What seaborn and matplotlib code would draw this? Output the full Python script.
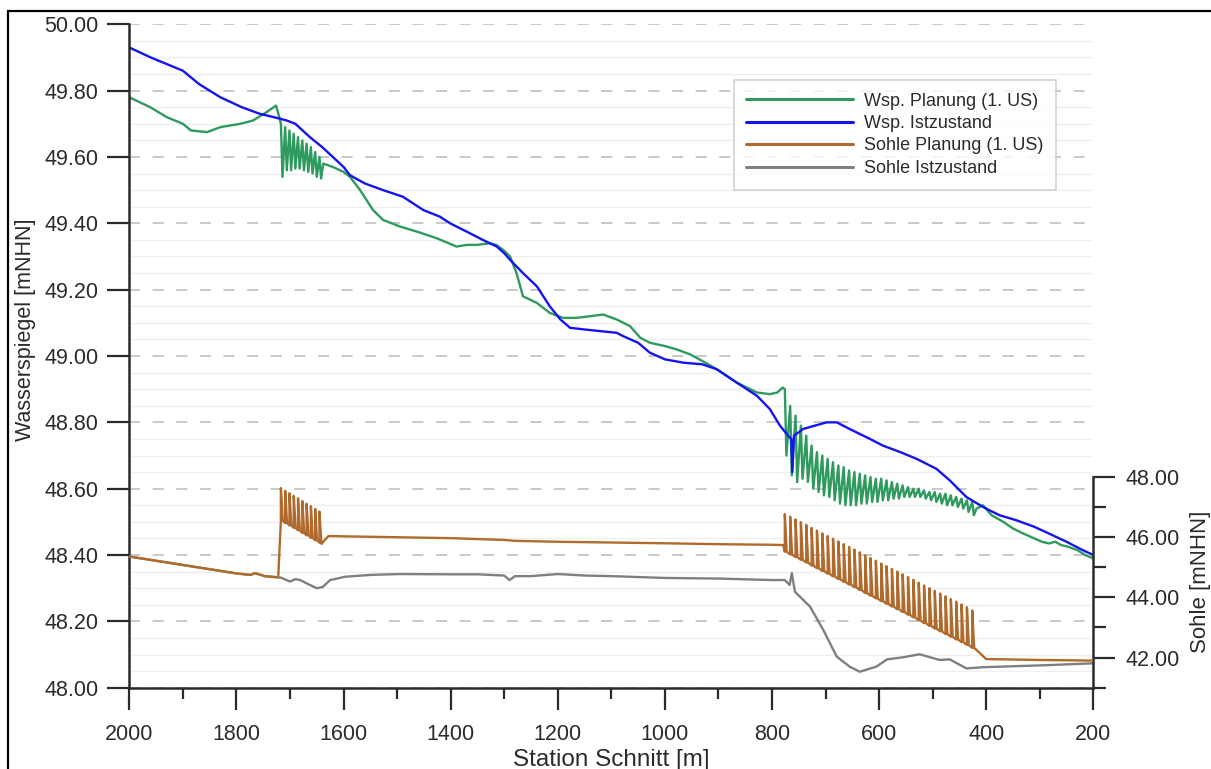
import numpy as np
import pandas as pd
import matplotlib
matplotlib.use("Agg")
import matplotlib.pyplot as plt
from matplotlib.ticker import MultipleLocator, FixedLocator, FormatStrFormatter
from matplotlib.patches import Rectangle
import seaborn as sns

# ---------------- data ----------------
# Wsp. Istzustand (left axis)
ist_s = [2000, 1960, 1900, 1870, 1830, 1790, 1756, 1730, 1706, 1690, 1663, 1640, 1620, 1600,
         1588, 1560, 1526, 1489, 1451, 1420, 1401, 1364, 1340, 1327, 1314, 1300, 1289, 1265,
         1239, 1215, 1195, 1177, 1150, 1121, 1090, 1078, 1050, 1028, 1000, 966, 930, 903, 866,
         828, 804, 785, 770, 764, 762, 759, 750, 742, 720, 698, 679, 655, 617, 593, 560, 530,
         493, 468, 437, 406, 394, 375, 344, 310, 283, 250, 220, 200]
ist_v = [49.93, 49.90, 49.86, 49.82, 49.78, 49.75, 49.73, 49.72, 49.71, 49.70, 49.66, 49.63,
         49.60, 49.57, 49.545, 49.52, 49.50, 49.48, 49.44, 49.42, 49.40, 49.37, 49.35, 49.34,
         49.33, 49.31, 49.29, 49.25, 49.21, 49.15, 49.11, 49.085, 49.08, 49.075, 49.07, 49.06,
         49.04, 49.01, 48.99, 48.98, 48.975, 48.96, 48.92, 48.88, 48.84, 48.79, 48.76, 48.75,
         48.65, 48.76, 48.77, 48.78, 48.79, 48.80, 48.80, 48.78, 48.75, 48.73, 48.71, 48.69,
         48.66, 48.625, 48.575, 48.545, 48.535, 48.52, 48.505, 48.485, 48.465, 48.44, 48.415,
         48.40]

# Wsp. Planung (1. US) (left axis)
plan_a_s = [2000, 1961, 1930, 1900, 1885, 1855, 1830, 1793, 1769, 1744, 1726, 1720]
plan_a_v = [49.78, 49.75, 49.72, 49.70, 49.68, 49.675, 49.69, 49.70, 49.71, 49.735, 49.755, 49.72]
plan_t1_top = [49.70, 49.69, 49.68, 49.67, 49.66, 49.65, 49.64, 49.63, 49.615, 49.60]
plan_t1_bot = [49.54, 49.56, 49.56, 49.565, 49.565, 49.56, 49.555, 49.55, 49.54, 49.535]
plan_b_s = [1638, 1620, 1600, 1588, 1569, 1545, 1526, 1494, 1463, 1426, 1389, 1370, 1351,
            1327, 1315, 1302, 1289, 1277, 1265, 1252, 1239, 1215, 1190, 1165, 1140, 1115,
            1090, 1065, 1046, 1028, 1000, 978, 953, 930, 903, 866, 828, 804, 790, 780]
plan_b_v = [49.58, 49.57, 49.555, 49.54, 49.50, 49.44, 49.41, 49.39, 49.375, 49.355, 49.33,
            49.335, 49.335, 49.34, 49.335, 49.32, 49.30, 49.25, 49.18, 49.17, 49.16, 49.13,
            49.115, 49.115, 49.12, 49.125, 49.11, 49.09, 49.055, 49.04, 49.03, 49.02, 49.005,
            48.985, 48.96, 48.92, 48.89, 48.885, 48.89, 48.905]
plan_t2_top = [48.90, 48.85, 48.82, 48.79, 48.76, 48.73, 48.71, 48.70, 48.69, 48.68, 48.67,
               48.665, 48.655, 48.65, 48.645, 48.64, 48.635, 48.63, 48.63, 48.625, 48.62,
               48.615, 48.61, 48.605, 48.60, 48.60, 48.595, 48.59, 48.59, 48.585, 48.585,
               48.58, 48.575, 48.57, 48.565, 48.56]
plan_t2_bot = [48.70, 48.64, 48.62, 48.63, 48.62, 48.60, 48.59, 48.58, 48.575, 48.565, 48.555,
               48.55, 48.55, 48.55, 48.555, 48.555, 48.56, 48.56, 48.565, 48.565, 48.57, 48.57,
               48.575, 48.575, 48.575, 48.575, 48.57, 48.565, 48.56, 48.555, 48.55, 48.55,
               48.545, 48.54, 48.53, 48.52]
plan_c_s = [418, 406, 390, 368, 350, 331, 310, 296, 283, 271, 260, 247, 230, 215, 200]
plan_c_v = [48.54, 48.55, 48.52, 48.50, 48.48, 48.465, 48.45, 48.44, 48.435, 48.44, 48.43,
            48.425, 48.415, 48.40, 48.39]

# step stations (riffle steps) of the planning
steps1_s = [1717, 1709, 1701, 1693, 1685, 1677, 1669, 1661, 1653, 1645]
steps2_s = [776, 766, 756, 746, 736, 726, 716, 706, 696, 686, 676, 666, 656, 646, 636, 626,
            616, 606, 596, 586, 576, 566, 556, 546, 536, 526, 516, 506, 496, 486, 476, 466,
            456, 446, 436, 426]

# Sohle Planung (1. US) (right axis)
sp_a_s = [2000, 1950, 1900, 1850, 1800, 1774, 1765, 1747, 1722]
sp_a_v = [45.35, 45.21, 45.07, 44.93, 44.79, 44.74, 44.80, 44.70, 44.66]
sp_t1_base = [46.54, 46.46, 46.38, 46.30, 46.22, 46.13, 46.05, 45.97, 45.89, 45.81]
sp_t1_top = [47.62, 47.53, 47.45, 47.36, 47.28, 47.19, 47.10, 47.02, 46.93, 46.84]
sp_b_s = [1641, 1635, 1628, 1600, 1500, 1400, 1300, 1280, 1200, 1000, 900, 800, 779]
sp_b_v = [45.77, 45.90, 46.03, 46.02, 45.99, 45.96, 45.90, 45.87, 45.84, 45.79, 45.76, 45.74, 45.73]
sp_t2_base = [45.51, 45.42, 45.33, 45.24, 45.15, 45.05, 44.96, 44.87, 44.78, 44.69, 44.60,
              44.51, 44.42, 44.33, 44.24, 44.14, 44.05, 43.96, 43.87, 43.78, 43.69, 43.60,
              43.51, 43.42, 43.33, 43.23, 43.14, 43.05, 42.96, 42.87, 42.78, 42.69, 42.60,
              42.51, 42.42, 42.32]
sp_t2_top = [46.76, 46.67, 46.58, 46.49, 46.40, 46.30, 46.21, 46.12, 46.03, 45.94, 45.85,
             45.76, 45.67, 45.58, 45.49, 45.39, 45.30, 45.21, 45.12, 45.03, 44.94, 44.85,
             44.76, 44.67, 44.58, 44.48, 44.39, 44.30, 44.21, 44.12, 44.03, 43.94, 43.85,
             43.76, 43.67, 43.56]
sp_c_s = [418, 400, 300, 200]
sp_c_v = [42.25, 41.95, 41.92, 41.90]

# Sohle Istzustand (right axis)
si_s = [2000, 1950, 1900, 1850, 1800, 1774, 1765, 1747, 1722, 1717, 1700, 1690, 1681, 1663,
        1650, 1639, 1625, 1597, 1551, 1494, 1401, 1350, 1300, 1290, 1280, 1250, 1200, 1150,
        1100, 1000, 900, 800, 776, 767, 763, 757, 729, 704, 679, 655, 636, 605, 585, 555,
        524, 487, 468, 437, 406, 283, 200]
si_v = [45.35, 45.21, 45.07, 44.93, 44.79, 44.74, 44.80, 44.70, 44.66, 44.65, 44.52, 44.60,
        44.57, 44.41, 44.30, 44.34, 44.57, 44.68, 44.74, 44.77, 44.76, 44.76, 44.72, 44.57,
        44.70, 44.70, 44.77, 44.72, 44.70, 44.64, 44.62, 44.57, 44.57, 44.41, 44.80, 44.18,
        43.69, 42.91, 42.03, 41.70, 41.53, 41.70, 41.94, 42.01, 42.11, 41.92, 41.94, 41.64,
        41.68, 41.75, 41.81]

labels = ["Wsp. Planung (1. US)", "Wsp. Istzustand", "Sohle Planung (1. US)", "Sohle Istzustand"]
colors = ["#2e9a5e", "#1414f0", "#b06b2c", "#7f7f7f"]

x_ticks = [2000, 1800, 1600, 1400, 1200, 1000, 800, 600, 400, 200]
sohle_ticks = [42, 44, 46, 48]


# ---------------- assemble polylines ----------------
def zigzag(st, tops, bots, w=3.0):
    xs, ys = [], []
    for s, t, b in zip(st, tops, bots):
        xs += [s, s - w]
        ys += [t, b]
    return xs, ys


def spikes(st, bases, tops, w=3.5):
    xs, ys = [], []
    for s, b, t in zip(st, bases, tops):
        xs += [s, s, s - w]
        ys += [b, t, b]
    return xs, ys


z1x, z1y = zigzag(steps1_s, plan_t1_top, plan_t1_bot)
z2x, z2y = zigzag(steps2_s, plan_t2_top, plan_t2_bot)
plan_x = plan_a_s + z1x + plan_b_s + z2x + plan_c_s
plan_y = plan_a_v + z1y + plan_b_v + z2y + plan_c_v

s1x, s1y = spikes(steps1_s, sp_t1_base, sp_t1_top)
s2x, s2y = spikes(steps2_s, sp_t2_base, sp_t2_top)
sp_x = sp_a_s + s1x + sp_b_s + s2x + sp_c_s
sp_y = sp_a_v + s1y + sp_b_v + s2y + sp_c_v

# ---------------- style ----------------
sns.set_theme(style="white")
plt.rcParams["font.family"] = ["Liberation Sans", "DejaVu Sans"]
plt.rcParams["lines.scale_dashes"] = False

TXT = "#2b2b2b"
fig = plt.figure(figsize=(12.11, 7.69), dpi=100)
ax = fig.add_axes([0.1068, 0.1057, 0.7960, 0.8627])
ax2 = ax.twinx()
ax.set_facecolor("white")
ax2.patch.set_visible(False)

lw = 1.7
sns.lineplot(x=plan_x, y=plan_y, ax=ax, estimator=None, sort=False, color=colors[0], lw=lw, legend=False)
h0 = ax.lines[-1]
sns.lineplot(x=ist_s, y=ist_v, ax=ax, estimator=None, sort=False, color=colors[1], lw=lw, legend=False)
h1 = ax.lines[-1]
sns.lineplot(x=si_s, y=si_v, ax=ax2, estimator=None, sort=False, color=colors[3], lw=lw, legend=False, zorder=2)
h3 = ax2.lines[-1]
sns.lineplot(x=sp_x, y=sp_y, ax=ax2, estimator=None, sort=False, color=colors[2], lw=lw, legend=False, zorder=3)
h2 = ax2.lines[-1]

ax.set_xlim(2000, 200)
ax.set_ylim(48.0, 50.0)
ax2.set_ylim(41, 63)

# grid
ax.yaxis.set_major_locator(MultipleLocator(0.2))
ax.yaxis.set_minor_locator(MultipleLocator(0.05))
ax.grid(which="major", axis="y", color="#c9c9c9", lw=1.4, ls=(0, (8, 9)), zorder=0)
ax.grid(which="minor", axis="y", color="#efefef", lw=1.0, ls="-", zorder=0)
ax.grid(which="major", axis="x", visible=False)
ax.set_axisbelow(True)
ax2.grid(False)

# spines
for sp in ["top", "right"]:
    ax.spines[sp].set_visible(False)
for sp in ["left", "bottom"]:
    ax.spines[sp].set_color(TXT)
    ax.spines[sp].set_linewidth(1.8)
for sp in ["top", "left", "bottom"]:
    ax2.spines[sp].set_visible(False)
ax2.spines["right"].set_color(TXT)
ax2.spines["right"].set_linewidth(1.8)
ax2.spines["right"].set_bounds(41, 48)

# ticks
ax.xaxis.set_major_locator(FixedLocator(x_ticks))
ax.xaxis.set_minor_locator(MultipleLocator(100))
ax.yaxis.set_major_formatter(FormatStrFormatter("%.2f"))
ax.tick_params(axis="x", which="major", direction="out", length=16, width=1.6, color=TXT,
               labelsize=15.5, labelcolor=TXT, pad=10, bottom=True)
ax.tick_params(axis="x", which="minor", direction="out", length=8, width=1.6, color=TXT, bottom=True)
ax.tick_params(axis="y", which="major", direction="out", length=16, width=1.6, color=TXT,
               labelsize=15.5, labelcolor=TXT, pad=6, left=True)
ax.tick_params(axis="y", which="minor", length=0, left=False)

ax2.yaxis.set_major_locator(FixedLocator(sohle_ticks))
ax2.yaxis.set_minor_locator(FixedLocator([41, 43, 45, 47]))
ax2.yaxis.set_major_formatter(FormatStrFormatter("%.2f"))
ax2.tick_params(axis="y", which="major", direction="out", length=16, width=1.6, color=TXT,
                labelsize=15.5, labelcolor=TXT, pad=7, right=True)
ax2.tick_params(axis="y", which="minor", direction="out", length=9, width=1.6, color=TXT, right=True)

# labels
ax.set_xlabel("Station Schnitt [m]", fontsize=17.5, color=TXT, labelpad=3)
ax.set_ylabel("Wasserspiegel [mNHN]", fontsize=15.5, color=TXT)
ax.yaxis.set_label_coords(-0.097, 0.539)
ax2.set_ylabel("Sohle [mNHN]", fontsize=16, color=TXT)
ax2.yaxis.set_label_coords(1.100, 0.159)

# legend
leg = ax2.legend([h0, h1, h2, h3], labels, loc="upper left", bbox_to_anchor=(0.627, 0.916),
                 borderaxespad=0, frameon=True, fancybox=False, fontsize=13,
                 handlelength=5.9, handletextpad=0.6, labelspacing=0.3, borderpad=0.7)
leg.get_frame().set_edgecolor("#c8c8c8")
leg.get_frame().set_linewidth(1.2)
for t in leg.get_texts():
    t.set_color(TXT)
for lh in leg.get_lines():
    lh.set_linewidth(2.2)

# figure border
fig.patches.append(Rectangle((8 / 1211, -0.05), 1.2, 1 - 11 / 769 + 0.05,
                             transform=fig.transFigure, fill=False, ec="black", lw=1.6))

fig.savefig("out.png", dpi=100, facecolor="white")
